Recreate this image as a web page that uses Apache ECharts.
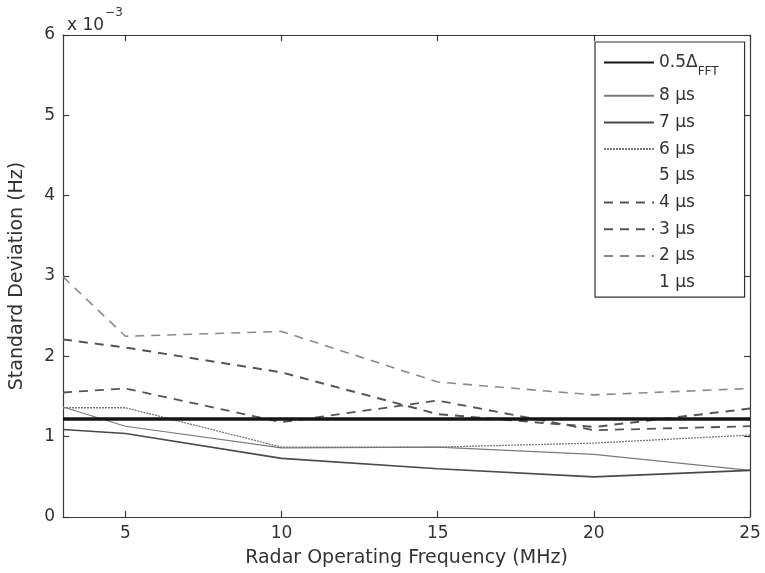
<!DOCTYPE html>
<html>
<head>
<meta charset="utf-8">
<script src="https://cdn.jsdelivr.net/npm/echarts@6/dist/echarts.min.js"></script>
<style>html,body{margin:0;padding:0;background:#fff;}#c{width:765px;height:573px;}</style>
</head>
<body>
<div id="c"></div>
<script>
// Data (values in units of 1e-3 Hz)
const freqs = [3, 5, 10, 15, 20, 25];
const fftHalf = [1.22, 1.22, 1.22, 1.22, 1.22, 1.22];
const us8 = [1.37, 1.13, 0.86, 0.87, 0.78, 0.58];
const us7 = [1.09, 1.04, 0.73, 0.60, 0.50, 0.58];
const us6 = [1.36, 1.36, 0.87, 0.87, 0.92, 1.02];
const us5 = [];
const us4 = [1.55, 1.60, 1.18, 1.45, 1.08, 1.13];
const us3 = [2.21, 2.11, 1.80, 1.28, 1.12, 1.35];
const us2 = [2.99, 2.25, 2.31, 1.68, 1.52, 1.60];
const us1 = [];
const xTicks = [5, 10, 15, 20, 25];
const yTicks = [0, 1, 2, 3, 4, 5, 6];

const FONT = 'DejaVu Sans';
function pts(arr){ return arr.map((v,i)=>[freqs[i], v]); }

const chart = echarts.init(document.getElementById('c'));
const series = [
  {name:'0.5ΔFFT', data:pts(fftHalf), color:'#151515', lineStyle:{width:3.5, type:'solid', color:'#151515'}, z:10},
  {name:'8 µs', data:pts(us8), color:'#7a7a7a', lineStyle:{width:1.1, type:'solid', color:'#7a7a7a'}},
  {name:'7 µs', data:pts(us7), color:'#4a4a4a', lineStyle:{width:1.6, type:'solid', color:'#4a4a4a'}},
  {name:'6 µs', data:pts(us6), color:'#7a7a7a', lineStyle:{width:1.3, type:[2,1], color:'#7a7a7a'}},
  {name:'5 µs', data:us5, color:'rgba(0,0,0,0)', lineStyle:{width:1, color:'rgba(0,0,0,0)'}},
  {name:'4 µs', data:pts(us4), color:'#555', lineStyle:{width:1.8, type:[9,7], color:'#555'}},
  {name:'3 µs', data:pts(us3), color:'#555', lineStyle:{width:2, type:[9,7], color:'#555'}},
  {name:'2 µs', data:pts(us2), color:'#8a8a8a', lineStyle:{width:1.6, type:[9,7], color:'#8a8a8a'}},
  {name:'1 µs', data:us1, color:'rgba(0,0,0,0)', lineStyle:{width:1, color:'rgba(0,0,0,0)'}}
].map(s => Object.assign({type:'line', symbol:'none', showSymbol:false, animation:false, silent:true}, s));

const axisLineStyle = {color:'#3a3a3a', width:1.2};
chart.setOption({
  animation:false,
  backgroundColor:'#fff',
  title:{
    text:'{a|x 10}{b|−3}',
    left:62, top:2,
    textStyle:{fontWeight:'normal', rich:{
      a:{fontFamily:FONT, fontSize:17, fontWeight:'normal', color:'#333', padding:[10,0,0,0]},
      b:{fontFamily:FONT, fontSize:12, fontWeight:'normal', color:'#333', verticalAlign:'top', padding:[0,0,0,1]}
    }}
  },
  grid:{left:61, right:15, top:35, bottom:55, containLabel:false},
  legend:{
    show:true,
    orient:'vertical',
    left:595, top:42,
    itemWidth:50, itemHeight:16, itemGap:9.7,
    padding:[12,26,6,8],
    borderColor:'#333', borderWidth:1.2,
    backgroundColor:'#fff',
    selectedMode:false,
    itemStyle:{opacity:0},
    formatter: function(n){ return n === '0.5ΔFFT' ? '0.5Δ{sub|FFT}' : n; },
    textStyle:{fontFamily:FONT, fontSize:17, color:'#333',
      rich:{sub:{fontFamily:FONT, fontSize:12, color:'#333', lineHeight:30, verticalAlign:'bottom'}}}
  },
  xAxis:[
    {type:'value', min:3, max:25, position:'bottom',
     name:'Radar Operating Frequency (MHz)', nameLocation:'middle', nameGap:32,
     nameTextStyle:{fontFamily:FONT, fontSize:19, color:'#333'},
     axisLine:{show:true, onZero:false, lineStyle:axisLineStyle},
     axisTick:{show:true, inside:true, length:6, customValues:xTicks, lineStyle:axisLineStyle},
     axisLabel:{show:true, customValues:xTicks, fontFamily:FONT, fontSize:17, color:'#333', margin:8},
     splitLine:{show:false}},
    {type:'value', min:3, max:25, position:'top',
     axisLine:{show:true, onZero:false, lineStyle:axisLineStyle},
     axisTick:{show:true, inside:true, length:6, customValues:xTicks, lineStyle:axisLineStyle},
     axisLabel:{show:false}, splitLine:{show:false}}
  ],
  yAxis:[
    {type:'value', min:0, max:6, interval:1, position:'left',
     name:'Standard Deviation (Hz)', nameLocation:'middle', nameGap:36,
     nameTextStyle:{fontFamily:FONT, fontSize:19, color:'#333'},
     axisLine:{show:true, onZero:false, lineStyle:axisLineStyle},
     axisTick:{show:true, inside:true, length:6, lineStyle:axisLineStyle},
     axisLabel:{show:true, fontFamily:FONT, fontSize:17, color:'#333', margin:8,
       customValues:yTicks},
     splitLine:{show:false}},
    {type:'value', min:0, max:6, interval:1, position:'right',
     axisLine:{show:true, onZero:false, lineStyle:axisLineStyle},
     axisTick:{show:true, inside:true, length:6, lineStyle:axisLineStyle},
     axisLabel:{show:false}, splitLine:{show:false}}
  ],
  series: series
});
</script>
</body>
</html>
